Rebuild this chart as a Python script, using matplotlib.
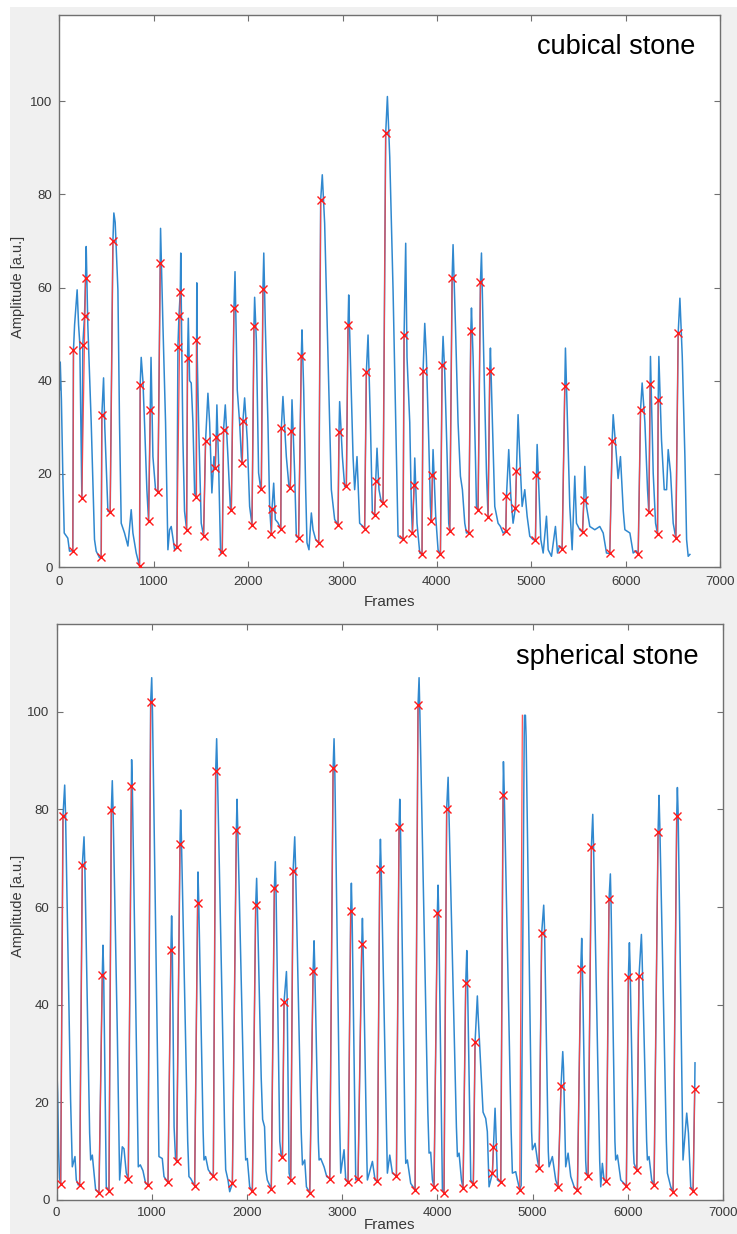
import matplotlib
matplotlib.use('Agg')
import matplotlib.pyplot as plt
from matplotlib.patches import Rectangle

plt.rcParams['font.family'] = ['Liberation Sans', 'DejaVu Sans']

# ---------------- cubical stone (top panel) ----------------
# blue amplitude trace, (frame, amplitude)
cub_trace = [
    (0, 38), (8, 44), (20, 36), (35, 20), (50, 7.3), (88, 6.2), (106, 3.4), (141, 3.5),
    (148, 46.5), (160, 52), (177, 56.6), (187, 59.5), (202, 52), (215, 48), (230, 25), (237, 14.8),
    (247, 47.7), (265, 53.8), (276, 62.1), (283, 68.8), (300, 52), (336, 31), (371, 5.9), (389, 3.4),
    (424, 2.0), (442, 2.1),
    (449, 32.7), (467, 40.6), (480, 30), (513, 12), (537, 11.7),
    (566, 69.9), (576, 76), (590, 74), (619, 59.5), (636, 31), (654, 9.4), (689, 7.3), (725, 4.5),
    (760, 12.3), (778, 7.3), (813, 3), (848, 0.2),
    (855, 39.1), (866, 45), (884, 40), (901, 31), (926, 16.6), (944, 9.8),
    (962, 33.6), (970, 45), (990, 23.7), (1018, 16.6), (1043, 16.2),
    (1068, 65.2), (1071, 72.7), (1096, 52), (1124, 31), (1149, 3.7), (1167, 8), (1184, 8.7),
    (1220, 3.7), (1244, 4.2),
    (1255, 47.3), (1266, 53.8), (1280, 59.1), (1285, 67.4), (1297, 45), (1308, 27.3), (1325, 12),
    (1347, 8.0),
    (1357, 44.8), (1365, 53.4), (1379, 40), (1396, 39.5), (1414, 31), (1432, 15.9), (1449, 15.0),
    (1455, 61), (1460, 45), (1474, 31), (1502, 9.4), (1527, 6.7),
    (1548, 27), (1573, 37.3), (1591, 31), (1615, 15.9), (1637, 23.7), (1651, 21.3),
    (1661, 28), (1668, 34.8), (1686, 22.3), (1707, 3), (1725, 3.2),
    (1739, 29.5), (1757, 34.8), (1785, 23.7), (1810, 13), (1821, 12.3),
    (1849, 55.6), (1860, 63.4), (1884, 38), (1909, 31), (1927, 23.7), (1937, 22.3),
    (1944, 31.3), (1962, 36.3), (1990, 27.3), (2015, 13), (2040, 9.1),
    (2061, 51.8), (2068, 57.9), (2086, 48.8), (2110, 20.2), (2131, 17), (2139, 16.7),
    (2156, 59.7), (2165, 67.4), (2181, 52), (2209, 31), (2227, 13), (2245, 7.0), (2252, 12.5),
    (2270, 18), (2287, 10.2), (2315, 9.5), (2345, 8.2),
    (2351, 29.8), (2368, 36.6), (2404, 23.7), (2432, 17.3), (2446, 17.0),
    (2457, 29.3), (2464, 35.9), (2492, 20.2), (2510, 6.6), (2534, 6.2),
    (2563, 45.4), (2570, 50.9), (2588, 38), (2609, 16.6), (2623, 5.2), (2644, 3.7), (2669, 11.6),
    (2687, 8), (2715, 5.9), (2747, 5.2),
    (2768, 78.8), (2785, 84.2), (2810, 73.8), (2846, 45.2), (2881, 16.6), (2916, 10.2), (2952, 9.1),
    (2962, 29), (2969, 35.5), (2998, 23.7), (3022, 17.3), (3040, 17.3),
    (3058, 52), (3065, 58.4), (3082, 45.2), (3111, 23.7), (3128, 16.6), (3153, 23.7), (3181, 9.4),
    (3217, 8.7), (3234, 8.2),
    (3252, 41.8), (3270, 49.8), (3295, 31), (3316, 11.6), (3340, 11.1),
    (3351, 18.4), (3365, 25.5), (3386, 16.6), (3410, 14), (3429, 13.7),
    (3457, 93.1), (3475, 101), (3500, 88), (3535, 59.5), (3563, 31), (3588, 6.6), (3613, 6.2),
    (3641, 6.0),
    (3652, 49.8), (3669, 69.5), (3683, 45), (3712, 31), (3729, 13), (3740, 7.3),
    (3758, 17.5), (3765, 23.4), (3789, 9.4), (3818, 3), (3842, 2.7),
    (3853, 42), (3871, 52.3), (3888, 45.2), (3913, 27.3), (3931, 13), (3941, 9.8),
    (3952, 19.8), (3959, 25.2), (3987, 10.9), (4012, 3.7), (4037, 2.7),
    (4055, 43.4), (4065, 49.5), (4083, 41.6), (4108, 23.7), (4125, 9.4), (4136, 7.7),
    (4161, 62.1), (4171, 69.2), (4196, 52), (4224, 31), (4249, 19.5), (4270, 16.6), (4295, 9.4),
    (4313, 7.3), (4337, 7.4),
    (4359, 50.6), (4366, 55.6), (4383, 45.2), (4408, 23.7), (4419, 13), (4436, 12.2),
    (4461, 61.1), (4472, 67.4), (4496, 45.2), (4525, 20.2), (4542, 10.7),
    (4560, 42), (4567, 47), (4588, 31), (4613, 13), (4648, 9.4), (4673, 8.7), (4701, 7.3), (4730, 7.7),
    (4737, 15.2), (4761, 25.2), (4783, 15.2), (4807, 9.4), (4832, 12.7),
    (4843, 20.7), (4860, 32.7), (4878, 23.7), (4903, 13), (4931, 16.6), (4956, 10.9), (4984, 6.6),
    (5019, 5.9), (5044, 5.7),
    (5055, 19.8), (5062, 26.3), (5080, 16.6), (5101, 5.9), (5126, 3), (5161, 10.9), (5179, 3.7),
    (5214, 2.3), (5256, 8.7), (5278, 3), (5300, 4.5), (5327, 3.9),
    (5355, 38.8), (5362, 47), (5384, 31), (5408, 13), (5433, 3.7), (5461, 19.5), (5479, 9.4),
    (5514, 8), (5543, 7.5),
    (5557, 14.3), (5567, 21.6), (5585, 13), (5620, 8.7), (5673, 8), (5726, 8.7), (5762, 7.3),
    (5797, 3), (5832, 2.9),
    (5857, 27), (5868, 32.7), (5903, 23.7), (5920, 19), (5945, 23.7), (5975, 12), (5992, 8),
    (6045, 7.3), (6080, 3), (6110, 3.5), (6133, 2.7),
    (6158, 33.8), (6175, 39.5), (6204, 31), (6232, 16.6), (6246, 11.7),
    (6260, 39.3), (6263, 45.2), (6292, 20.2), (6317, 9.4), (6338, 7.1),
    (6345, 35.9), (6352, 45.2), (6380, 27.3), (6409, 16.6), (6434, 16.6), (6451, 25.2), (6476, 20.2),
    (6504, 9.4), (6532, 6.2),
    (6557, 50.3), (6575, 57.7), (6600, 45.2), (6628, 23.7), (6646, 5.9), (6663, 2.3), (6681, 2.7),
]

# red onset / peak detections
cub_lo_x = [141, 237, 442, 537, 848, 944, 1043, 1244, 1347, 1449, 1527, 1651, 1725, 1821, 1937,
            2040, 2139, 2245, 2345, 2446, 2534, 2747, 2952, 3040, 3234, 3340, 3429, 3641, 3740,
            3842, 3941, 4037, 4136, 4337, 4436, 4542, 4730, 4832, 5044, 5327, 5543, 5832, 6133,
            6246, 6338, 6532]
cub_lo_y = [3.5, 14.8, 2.1, 11.7, 0.2, 9.8, 16.2, 4.2, 8.0, 15.0, 6.7, 21.3, 3.2, 12.3, 22.3,
            9.1, 16.7, 7.0, 8.2, 17.0, 6.2, 5.2, 9.1, 17.3, 8.2, 11.1, 13.7, 6.0, 7.3,
            2.7, 9.8, 2.7, 7.7, 7.4, 12.2, 10.7, 7.7, 12.7, 5.7, 3.9, 7.5, 2.9, 2.7,
            11.7, 7.1, 6.2]
cub_hi_x = [148, 276, 449, 566, 855, 962, 1068, 1280, 1357, 1449, 1548, 1661, 1739, 1849, 1944,
            2061, 2156, 2252, 2351, 2457, 2563, 2768, 2962, 3058, 3252, 3351, 3457, 3652, 3758,
            3853, 3952, 4055, 4161, 4359, 4461, 4560, 4737, 4843, 5055, 5355, 5557, 5857, 6158,
            6260, 6345, 6557]
cub_hi_y = [46.5, 62.1, 32.7, 69.9, 39.1, 33.6, 65.2, 59.1, 44.8, 48.8, 27.0, 28.0, 29.5, 55.6, 31.3,
            51.8, 59.7, 12.5, 29.8, 29.3, 45.4, 78.8, 29.0, 52.0, 41.8, 18.4, 93.1, 49.8, 17.5,
            42.0, 19.8, 43.4, 62.1, 50.6, 61.1, 42.0, 15.2, 20.7, 19.8, 38.8, 14.3, 27.0, 33.8,
            39.3, 35.9, 50.3]
# extra detections sitting on a rising edge
cub_mid_x = [247, 265, 1255, 1266]
cub_mid_y = [47.7, 53.8, 47.3, 53.8]

# ---------------- spherical stone (bottom panel) ----------------
sph_trace = [
    (0, 29), (12, 22), (22, 10), (32, 4.5), (44, 3.3),
    (68, 78.6), (86, 85), (95, 79), (148, 20.5), (166, 6.8), (184, 8.2), (194, 8.9), (208, 4.1), (229, 3.1),
    (243, 3.1), (271, 68.6), (289, 74.4), (297, 69), (348, 13.7), (359, 8.2), (376, 9.2), (394, 5.5), (411, 2.1),
    (446, 1.5), (481, 46.1), (488, 52.2), (495, 47), (516, 13.7), (523, 2.7),
    (551, 1.9), (576, 79.9), (586, 85.9), (594, 80), (639, 34), (663, 4.1), (691, 10.9), (709, 10.5), (733, 5.5),
    (754, 4.4), (786, 84.9), (789, 90.2), (797, 84), (845, 25), (859, 6.8), (880, 7.2), (908, 6), (936, 3.4),
    (961, 3.1), (989, 102), (1000, 107), (1008, 100), (1060, 30), (1076, 8.9), (1111, 8.5), (1129, 4.8),
    (1171, 3.6), (1202, 51.3), (1209, 58.2), (1216, 52), (1235, 15), (1250, 8.5),
    (1262, 7.9), (1297, 72.9), (1304, 79.9), (1312, 74), (1378, 12), (1391, 4.8), (1409, 4.4), (1426, 3.8),
    (1451, 2.9), (1482, 60.9), (1486, 67.2), (1494, 61), (1540, 14), (1549, 8.2), (1566, 8.9), (1594, 6.2), (1619, 5.5),
    (1647, 4.9), (1672, 87.9), (1682, 94.5), (1690, 88), (1765, 15), (1777, 6.2), (1801, 4.1), (1819, 1.7),
    (1847, 3.4), (1889, 75.8), (1896, 82.1), (1904, 76), (1975, 15), (1987, 8.2), (2004, 8.5), (2029, 2.7),
    (2057, 1.9), (2092, 60.4), (2102, 65.9), (2110, 60), (2150, 25), (2165, 16.5), (2185, 15), (2200, 6), (2214, 4.1),
    (2256, 2.3), (2288, 64), (2298, 69.3), (2306, 63), (2345, 12), (2360, 9),
    (2373, 8.9), (2390, 40.6), (2415, 46.8), (2422, 42), (2443, 5.5),
    (2460, 4.1), (2485, 67.5), (2502, 74.4), (2510, 69), (2570, 14), (2583, 7.2), (2607, 8.2), (2625, 2.7),
    (2660, 1.5), (2695, 47), (2705, 53.1), (2712, 48), (2750, 12), (2758, 8.2), (2775, 8.5), (2810, 6.8), (2838, 4.8),
    (2870, 4.4), (2905, 88.4), (2915, 94.5), (2923, 88), (2975, 15), (2985, 5.5), (3020, 10.3), (3038, 4.1),
    (3062, 3.6), (3090, 59.3), (3097, 64.9), (3104, 59), (3143, 4.1),
    (3167, 4.4), (3206, 52.4), (3213, 57.7), (3220, 52), (3260, 8), (3265, 4.1), (3318, 7.9), (3346, 4.1),
    (3370, 3.8), (3395, 67.8), (3402, 73.9), (3410, 68), (3468, 12), (3475, 5.5), (3500, 9.2), (3528, 5.5),
    (3570, 4.9), (3598, 76.5), (3605, 82.1), (3613, 76), (3660, 14), (3668, 7.5), (3685, 8.2), (3720, 3.4),
    (3766, 2.1), (3797, 101.4), (3808, 107), (3816, 100), (3900, 18), (3913, 9.6), (3930, 9.8), (3948, 4.1),
    (3965, 2.7), (4000, 58.7), (4007, 64.5), (4014, 59), (4053, 2.1),
    (4070, 1.5), (4098, 80.2), (4113, 86.6), (4121, 80), (4200, 15), (4211, 8.9), (4228, 9.6), (4253, 4.1),
    (4270, 2.4), (4298, 44.4), (4309, 51.1), (4316, 46), (4351, 4.1),
    (4378, 3.3), (4396, 32.3), (4420, 41.8), (4428, 38), (4480, 18), (4508, 16.7), (4525, 14), (4543, 2.7),
    (4578, 5.5), (4589, 10.9), (4606, 18.8), (4615, 14), (4631, 4.1),
    (4666, 3.6), (4690, 82.9), (4694, 89.8), (4702, 84), (4775, 14), (4788, 5.5), (4823, 5.8), (4841, 4.1),
    (4865, 2.1), (4880, 3), (4912, 95), (4915, 99.3), (4925, 99.3), (4932, 95), (4990, 14), (4998, 10.3),
    (5026, 11.6), (5051, 8.2),
    (5068, 6.5), (5096, 54.8), (5117, 60.4), (5125, 56), (5165, 10), (5173, 6.8), (5208, 8.9), (5243, 4.1),
    (5268, 2.7), (5299, 23.4), (5317, 30.4), (5325, 27), (5348, 6.8), (5373, 9.6), (5401, 4.8), (5440, 2.5),
    (5471, 2.1), (5506, 47.4), (5516, 53.6), (5523, 48), (5558, 8), (5565, 5.5),
    (5583, 4.9), (5618, 72.4), (5632, 79), (5640, 73), (5705, 8), (5716, 2.7), (5733, 7.5), (5751, 4.1),
    (5775, 3.8), (5803, 61.6), (5817, 66.8), (5824, 61), (5865, 12), (5873, 8.2), (5891, 9.2), (5926, 4.1), (5955, 3.5),
    (5985, 2.9), (6006, 45.6), (6017, 52.7), (6024, 48), (6060, 10), (6066, 7.5), (6080, 6.8),
    (6094, 6.2), (6118, 45.9), (6143, 54.4), (6150, 50), (6198, 12), (6206, 8.2), (6223, 8.9), (6251, 4.1),
    (6276, 3.1), (6318, 75.3), (6328, 82.9), (6336, 77), (6405, 12), (6416, 5.5), (6451, 2.7),
    (6476, 1.7), (6514, 78.7), (6521, 84.5), (6529, 79), (6575, 14), (6580, 8.2), (6619, 17.8), (6637, 13.7), (6661, 2.7),
    (6686, 1.9), (6703, 22.7), (6706, 28.1),
]

sph_lo_x = [44, 243, 446, 551, 754, 961, 1171, 1262, 1451, 1647, 1847, 2057, 2256, 2373, 2460,
            2660, 2870, 3062, 3167, 3370, 3570, 3766, 3965, 4070, 4270, 4378, 4578, 4666, 4865,
            5068, 5268, 5471, 5583, 5775, 5985, 6094, 6276, 6476, 6686]
sph_lo_y = [3.3, 3.1, 1.5, 1.9, 4.4, 3.1, 3.6, 7.9, 2.9, 4.9, 3.4, 1.9, 2.3, 8.9, 4.1,
            1.5, 4.4, 3.6, 4.4, 3.8, 4.9, 2.1, 2.7, 1.5, 2.4, 3.3, 5.5, 3.6, 2.1,
            6.5, 2.7, 2.1, 4.9, 3.8, 2.9, 6.2, 3.1, 1.7, 1.9]
sph_hi_x = [68, 271, 481, 576, 786, 989, 1202, 1297, 1482, 1672, 1889, 2092, 2288, 2390, 2485,
            2695, 2905, 3090, 3206, 3395, 3598, 3797, 4000, 4098, 4298, 4396, 4589, 4690, 4893,
            5096, 5299, 5506, 5618, 5803, 6006, 6118, 6318, 6514, 6703]
sph_hi_y = [78.6, 68.6, 46.1, 79.9, 84.9, 102.0, 51.3, 72.9, 60.9, 87.9, 75.8, 60.4, 64.0, 40.6, 67.5,
            47.0, 88.4, 59.3, 52.4, 67.8, 76.5, 101.4, 58.7, 80.2, 44.4, 32.3, 10.9, 82.9, 99.3,
            54.8, 23.4, 47.4, 72.4, 61.6, 45.6, 45.9, 75.3, 78.7, 22.7]
sph_hi_unmarked = [28]   # detection at frame 4893 has its line but no cross

x_ticks = [0, 1000, 2000, 3000, 4000, 5000, 6000, 7000]
y_ticks = [0, 20, 40, 60, 80, 100]

BLUE = '#3088cf'
RED = '#ff4040'
AX_COL = '#707070'
TXT_COL = '#383838'

W, H = 737, 1234
fig = plt.figure(figsize=(W / 100, H / 100), dpi=100)
fig.patch.set_facecolor('white')
fig.patches.append(Rectangle((10 / W, 0), 1 - 10 / W, 1 - 7 / H, transform=fig.transFigure,
                             facecolor='#f0f0f0', edgecolor='none', zorder=-10))


def panel(rect, trace, lo_x, lo_y, hi_x, hi_y, title, ymax, label_x, label_y, frames_y, xpad,
          mid_x=(), mid_y=(), unmarked=()):
    ax = fig.add_axes(rect)
    ax.set_facecolor('white')
    tx, ty = zip(*trace)
    ax.plot(tx, ty, color=BLUE, lw=1.1, zorder=2)
    for a, b, c, d in zip(lo_x, lo_y, hi_x, hi_y):
        ax.plot([a, c], [b, d], color=RED, lw=0.9, alpha=0.9, zorder=3)
    mx = list(lo_x) + [x for i, x in enumerate(hi_x) if i not in unmarked] + list(mid_x)
    my = list(lo_y) + [y for i, y in enumerate(hi_y) if i not in unmarked] + list(mid_y)
    ax.plot(mx, my, 'x', color='#ff1a1a', ms=5.5, mew=1.0, zorder=4)
    ax.set_xlim(0, 7000)
    ax.set_ylim(0, ymax)
    ax.set_xticks(x_ticks)
    ax.set_yticks(y_ticks)
    ax.tick_params(direction='in', length=4, width=0.8, color=AX_COL, labelcolor=TXT_COL,
                   labelsize=9.5, top=True, right=True, pad=5)
    ax.tick_params(axis='x', pad=xpad)
    for s in ax.spines.values():
        s.set_color(AX_COL)
        s.set_linewidth(1.0)
    ax.set_xlabel('Frames', fontsize=11, color=TXT_COL)
    ax.set_ylabel('Amplitude [a.u.]', fontsize=10.5, color=TXT_COL)
    ax.yaxis.set_label_coords(label_x, label_y)
    ax.xaxis.set_label_coords(0.5, frames_y)
    ax.text(0.963, 0.93, title, transform=ax.transAxes, ha='right', va='baseline',
            fontsize=19.5, color='black')
    return ax


panel([59.5 / W, (H - 567) / H, 660.5 / W, 552 / H], cub_trace,
      cub_lo_x, cub_lo_y, cub_hi_x, cub_hi_y, 'cubical stone', 118.5,
      -0.052, 0.508, -0.05, 6.5, mid_x=cub_mid_x, mid_y=cub_mid_y)

panel([56.5 / W, (H - 1200) / H, 666.5 / W, 576 / H], sph_trace,
      sph_lo_x, sph_lo_y, sph_hi_x, sph_hi_y, 'spherical stone', 118,
      -0.047, 0.51, -0.031, 5, unmarked=sph_hi_unmarked)

fig.savefig('out.png', dpi=100)
